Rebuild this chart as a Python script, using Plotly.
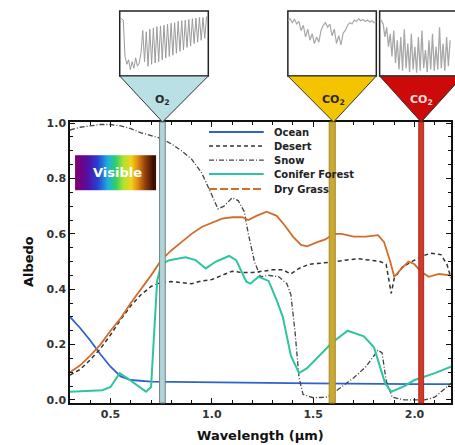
import plotly.graph_objects as go

# ---------------- data ----------------
ocean_wl = [0.30, 0.35, 0.40, 0.45, 0.50, 0.55, 0.60, 0.70, 0.80, 1.00, 1.50, 2.00, 2.18]
ocean_al = [0.30, 0.26, 0.215, 0.165, 0.12, 0.085, 0.072, 0.066, 0.065, 0.063, 0.06, 0.057, 0.057]

desert_wl = [0.30, 0.35, 0.40, 0.45, 0.50, 0.55, 0.60, 0.65, 0.70, 0.75, 0.80, 0.85, 0.90, 0.95,
             1.00, 1.05, 1.10, 1.15, 1.20, 1.25, 1.30, 1.35, 1.39, 1.43, 1.48, 1.55, 1.60, 1.65,
             1.72, 1.78, 1.83, 1.86, 1.885, 1.90, 1.94, 2.00, 2.04, 2.08, 2.13, 2.16, 2.18]
desert_al = [0.09, 0.11, 0.145, 0.185, 0.235, 0.29, 0.34, 0.38, 0.41, 0.425, 0.428, 0.425, 0.42, 0.43,
             0.435, 0.45, 0.465, 0.46, 0.46, 0.465, 0.47, 0.47, 0.455, 0.475, 0.49, 0.495, 0.50, 0.505,
             0.51, 0.505, 0.50, 0.49, 0.385, 0.44, 0.48, 0.505, 0.52, 0.53, 0.525, 0.49, 0.44]

snow_wl = [0.30, 0.35, 0.40, 0.45, 0.50, 0.55, 0.60, 0.65, 0.70, 0.75, 0.80, 0.85, 0.90, 0.95,
           1.00, 1.03, 1.06, 1.10, 1.13, 1.16, 1.18, 1.21, 1.24, 1.28, 1.33, 1.37, 1.39, 1.41,
           1.43, 1.45, 1.50, 1.57, 1.64, 1.70, 1.76, 1.82, 1.84, 1.86, 1.89, 1.95, 2.05, 2.10,
           2.14, 2.18]
snow_al = [0.975, 0.985, 0.99, 0.995, 0.995, 0.99, 0.98, 0.965, 0.955, 0.945, 0.925, 0.90, 0.87, 0.82,
           0.74, 0.69, 0.70, 0.73, 0.72, 0.68, 0.60, 0.50, 0.445, 0.45, 0.445, 0.42, 0.38, 0.25,
           0.08, 0.02, 0.008, 0.01, 0.047, 0.08, 0.12, 0.18, 0.17, 0.07, 0.01, 0.0, 0.0, 0.01,
           0.035, 0.06]

conifer_wl = [0.30, 0.40, 0.46, 0.50, 0.53, 0.545, 0.58, 0.62, 0.675, 0.70, 0.715, 0.73, 0.75, 0.79,
              0.87, 0.92, 0.97, 1.02, 1.085, 1.12, 1.17, 1.19, 1.23, 1.28, 1.32, 1.35, 1.39, 1.43,
              1.47, 1.51, 1.59, 1.67, 1.75, 1.80, 1.83, 1.855, 1.885, 1.95, 2.00, 2.10, 2.18]
conifer_al = [0.03, 0.032, 0.035, 0.047, 0.083, 0.097, 0.08, 0.06, 0.03, 0.047, 0.25, 0.43, 0.49, 0.505,
              0.515, 0.505, 0.475, 0.50, 0.52, 0.505, 0.427, 0.42, 0.445, 0.43, 0.36, 0.30, 0.16, 0.097,
              0.115, 0.145, 0.205, 0.25, 0.23, 0.19, 0.12, 0.06, 0.03, 0.05, 0.072, 0.097, 0.12]

grass_wl = [0.30, 0.35, 0.40, 0.45, 0.50, 0.55, 0.60, 0.65, 0.70, 0.75, 0.80, 0.85, 0.90, 0.95,
            1.00, 1.05, 1.10, 1.15, 1.18, 1.22, 1.27, 1.32, 1.36, 1.40, 1.44, 1.47, 1.52, 1.56,
            1.60, 1.64, 1.70, 1.76, 1.82, 1.85, 1.88, 1.90, 1.93, 1.97, 2.00, 2.03, 2.07, 2.12, 2.18]
grass_al = [0.10, 0.125, 0.16, 0.20, 0.25, 0.295, 0.35, 0.40, 0.45, 0.505, 0.54, 0.57, 0.60, 0.625,
            0.64, 0.655, 0.66, 0.66, 0.65, 0.665, 0.68, 0.665, 0.63, 0.59, 0.56, 0.555, 0.57, 0.58,
            0.60, 0.60, 0.59, 0.59, 0.595, 0.57, 0.50, 0.445, 0.47, 0.50, 0.49, 0.465, 0.445, 0.455, 0.45]

series_names = ["Ocean", "Desert", "Snow", "Conifer Forest", "Dry Grass"]

# absorption bands (wavelength ranges, um)
band_names = ["O<sub>2</sub>", "CO<sub>2</sub>", "CO<sub>2</sub>"]
band_lo = [0.742, 1.579, 2.021]
band_hi = [0.770, 1.609, 2.045]

# inset transmission spectra (relative units, uniform spacing)
o2_spec = [0.88, 0.88, 0.86, 0.30, 0.18, 0.25, 0.10, 0.22, 0.12, 0.28, 0.15, 0.20, 0.35, 0.70, 0.22,
           0.68, 0.15, 0.72, 0.18, 0.74, 0.20, 0.76, 0.22, 0.77, 0.25, 0.78, 0.28, 0.80, 0.30, 0.81,
           0.32, 0.82, 0.35, 0.84, 0.38, 0.85, 0.40, 0.86, 0.44, 0.87, 0.46, 0.88, 0.50, 0.89, 0.52,
           0.90, 0.55, 0.90, 0.58, 0.91, 0.90]
co2a_spec = [0.85, 0.88, 0.82, 0.87, 0.80, 0.84, 0.70, 0.78, 0.60, 0.72, 0.55, 0.65, 0.50, 0.60, 0.52,
             0.70, 0.78, 0.82, 0.75, 0.80, 0.62, 0.72, 0.50, 0.62, 0.48, 0.66, 0.70, 0.78, 0.82, 0.80,
             0.86, 0.84, 0.88, 0.85, 0.87, 0.84, 0.86, 0.83, 0.85, 0.82, 0.84]
co2b_spec = [0.88, 0.85, 0.80, 0.60, 0.75, 0.45, 0.65, 0.30, 0.70, 0.20, 0.55, 0.10, 0.60, 0.08, 0.72,
             0.12, 0.50, 0.06, 0.65, 0.10, 0.45, 0.05, 0.60, 0.08, 0.70, 0.12, 0.40, 0.06, 0.55, 0.10,
             0.65, 0.08, 0.45, 0.10, 0.75, 0.12, 0.50, 0.08, 0.60, 0.15, 0.55]

visible_levels = [0.0, 0.1, 0.2, 0.3, 0.4, 0.5, 0.6, 0.7, 0.8, 0.9, 1.0]

# ---------------- styles ----------------
FONT = "DejaVu Sans"
col_ocean = "#2f62cc"
col_desert = "#333333"
col_snow = "#444444"
col_conifer = "#2fc4a0"
col_grass = "#cf6e2c"

fig = go.Figure()

# visible gradient box
fig.add_trace(go.Heatmap(
    z=[visible_levels, visible_levels],
    x0=0.325 + 0.401 / 22, dx=0.401 / 11,
    y0=0.758 + 0.0315, dy=0.063,
    zmin=0, zmax=1, zsmooth="best", showscale=False, hoverinfo="skip",
    colorscale=[[0.0, "#7a0078"], [0.12, "#5212a6"], [0.25, "#2a40d4"], [0.38, "#1eb0e2"],
                [0.5, "#34d064"], [0.6, "#b0e230"], [0.7, "#f2d41e"], [0.8, "#e08810"],
                [0.9, "#8e3c0e"], [1.0, "#3c1000"]],
))

fig.add_trace(go.Scatter(x=ocean_wl, y=ocean_al, name="Ocean", mode="lines",
                         line=dict(color=col_ocean, width=1.8)))
fig.add_trace(go.Scatter(x=desert_wl, y=desert_al, name="Desert", mode="lines",
                         line=dict(color=col_desert, width=1.5, dash="4px,3px")))
fig.add_trace(go.Scatter(x=snow_wl, y=snow_al, name="Snow", mode="lines",
                         line=dict(color=col_snow, width=1.3, dash="5px,2px,1px,2px")))
fig.add_trace(go.Scatter(x=conifer_wl, y=conifer_al, name="Conifer Forest", mode="lines",
                         line=dict(color=col_conifer, width=2)))
fig.add_trace(go.Scatter(x=grass_wl, y=grass_al, name="Dry Grass", mode="lines",
                         line=dict(color=col_grass, width=1.8)))

# inset spectra
fig.add_trace(go.Scatter(x0=0, dx=0.02, y=o2_spec, mode="lines", xaxis="x2", yaxis="y2",
                         line=dict(color="#9a9a9a", width=1), hoverinfo="skip"))
fig.add_trace(go.Scatter(x0=0, dx=0.025, y=co2a_spec, mode="lines", xaxis="x3", yaxis="y3",
                         line=dict(color="#a8a8a8", width=1.2), hoverinfo="skip"))
fig.add_trace(go.Scatter(x0=0, dx=0.02, y=co2b_spec, mode="lines", xaxis="x4", yaxis="y4",
                         line=dict(color="#a8a8a8", width=1.3), hoverinfo="skip"))

MAIN_TOP = 281 / 393
shapes = []
# vertical absorption bands
band_fill = ["#b0d5d8", "#c9a834", "#d13a28"]
band_line = ["#6f7f80", "#a88a20", "#b02a1a"]
for lo, hi, f, l in zip(band_lo, band_hi, band_fill, band_line):
    shapes.append(dict(type="rect", xref="x", yref="y domain", x0=lo, x1=hi, y0=0, y1=1,
                       fillcolor=f, line=dict(color=l, width=1), layer="above"))

# inset boxes and triangles (paper coords)
box_y0, box_y1 = 0.832, 0.9975
boxes = [(0.1305, 0.363, 0.2428, "#b9e0e4"), (0.5718, 0.804, 0.6919, "#f5c400"),
         (0.8127, 1.031, 0.9217, "#cc0a0a")]
for x0, x1, apex, col in boxes:
    shapes.append(dict(type="rect", xref="paper", yref="paper", x0=x0, x1=x1 if x1 < 1 else 1.06,
                       y0=box_y0, y1=box_y1, fillcolor="white",
                       line=dict(color="#222222", width=1.5), layer="below"))
    shapes.append(dict(type="path", xref="paper", yref="paper",
                       path=f"M {x0},{box_y0} L {x1},{box_y0} L {apex},{MAIN_TOP} Z",
                       fillcolor=col, line=dict(color="#333333", width=1), layer="above"))

# manual legend
leg_y = [0.9675, 0.917, 0.866, 0.816, 0.762]
leg_col = [col_ocean, col_desert, col_snow, col_conifer, col_grass]
leg_dash = ["solid", "4px,3px", "5px,2px,1px,2px", "solid", "8px,3px"]
leg_w = [2, 1.5, 1.3, 2, 1.8]
annotations = []
for name, yy, c, d, w in zip(series_names, leg_y, leg_col, leg_dash, leg_w):
    shapes.append(dict(type="line", xref="x", yref="y", x0=0.986, x1=1.256, y0=yy, y1=yy,
                       line=dict(color=c, width=w, dash=d)))
    annotations.append(dict(x=1.295, y=yy, xref="x", yref="y", text=name, showarrow=False,
                            xanchor="left", yanchor="middle",
                            font=dict(family=FONT, size=10, color="#222222", weight="bold")))

# band labels
label_col = ["#2a2a2a", "#2a2a2a", "#f4dada"]
for (x0, x1, apex, col), txt, tc in zip(boxes, band_names, label_col):
    annotations.append(dict(x=apex, y=0.771, xref="paper", yref="paper", text=txt, showarrow=False,
                            xanchor="center", yanchor="middle",
                            font=dict(family=FONT, size=11, color=tc, weight="bold")))

annotations.append(dict(x=0.535, y=0.82, xref="x", yref="y", text="Visible", showarrow=False,
                        font=dict(family=FONT, size=13, color="white", weight="bold")))
annotations.append(dict(x=-0.11, y=(403 - 262) / 393, xref="paper", yref="paper", text="Albedo",
                        textangle=-90, showarrow=False, xanchor="center", yanchor="middle",
                        font=dict(family=FONT, size=13, color="#111111", weight="bold")))
annotations.append(dict(x=0.501, y=(403 - 435) / 393, xref="paper", yref="paper",
                        text="Wavelength (\u03bcm)", showarrow=False, xanchor="center", yanchor="middle",
                        font=dict(family=FONT, size=13, color="#111111", weight="bold")))

axis_common = dict(showline=True, linecolor="#111111", linewidth=1.5, mirror="ticks",
                   ticks="inside", ticklen=5, tickwidth=1.2, tickcolor="#111111",
                   showgrid=False, zeroline=False, tickformat=".1f",
                   tickfont=dict(family=FONT, size=11, color="#333333", weight="bold"))
inset_axis = dict(visible=False, fixedrange=True)

fig.update_layout(
    width=455, height=445,
    margin=dict(l=70, r=2, t=10, b=42),
    paper_bgcolor="white", plot_bgcolor="white",
    showlegend=False,
    xaxis=dict(range=[0.3, 2.18], dtick=0.5, tick0=0,
               minor=dict(dtick=0.1, ticks="inside", ticklen=3, tickcolor="#111111"),
               domain=[0, 1], anchor="y", **axis_common),
    yaxis=dict(range=[-0.011, 1.004], dtick=0.2, tick0=0,
               minor=dict(dtick=0.05, ticks="inside", ticklen=3, tickcolor="#111111"),
               domain=[0, MAIN_TOP], anchor="x", **axis_common),
    xaxis2=dict(domain=[0.1305, 0.363], range=[0, 1], anchor="y2", **inset_axis),
    yaxis2=dict(domain=[box_y0, box_y1], range=[0, 1], anchor="x2", **inset_axis),
    xaxis3=dict(domain=[0.5718, 0.804], range=[0, 1], anchor="y3", **inset_axis),
    yaxis3=dict(domain=[box_y0, box_y1], range=[0, 1], anchor="x3", **inset_axis),
    xaxis4=dict(domain=[0.8127, 1.0], range=[0, 0.81], anchor="y4", **inset_axis),
    yaxis4=dict(domain=[box_y0, box_y1], range=[0, 1], anchor="x4", **inset_axis),
    shapes=shapes,
    annotations=annotations,
)

fig.write_html("out.html", config={"displayModeBar": False},
               post_script="document.body.style.margin='0';document.body.style.padding='0';")
